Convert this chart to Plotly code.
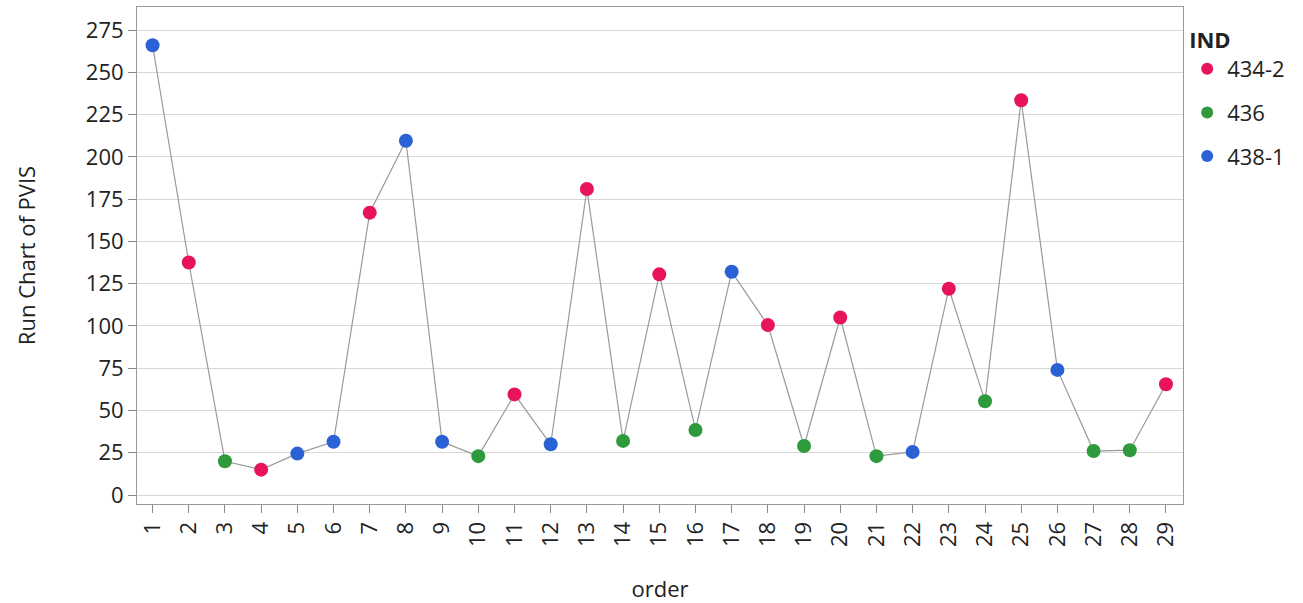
import plotly.graph_objects as go

order = list(range(1, 30))
pvis = [266, 137.5, 20, 15, 24.5, 31.5, 167, 209.5, 31.5, 23, 59.5, 30, 181, 32,
        130.5, 38.5, 132, 100.5, 29, 105, 23, 25.5, 122, 55.5, 233.5, 74, 26, 26.5, 65.5]
ind = ["438-1", "434-2", "436", "434-2", "438-1", "438-1", "434-2", "438-1", "438-1", "436",
       "434-2", "438-1", "434-2", "436", "434-2", "436", "438-1", "434-2", "436", "434-2",
       "436", "438-1", "434-2", "436", "434-2", "438-1", "436", "436", "434-2"]
groups = ["434-2", "436", "438-1"]
colors = {"434-2": "#E8145A", "436": "#2E9A3C", "438-1": "#2A62D6"}

font_family = "Open Sans, Noto Sans, sans-serif"
FS = 22

fig = go.Figure()
fig.add_trace(go.Scatter(x=order, y=pvis, mode="lines",
                         line=dict(color="#9a9a9a", width=1.2),
                         showlegend=False, hoverinfo="skip"))
for g in groups:
    xs = [o for o, i in zip(order, ind) if i == g]
    ys = [v for v, i in zip(pvis, ind) if i == g]
    fig.add_trace(go.Scatter(x=xs, y=ys, mode="markers", name=g, legendgroup=g,
                             marker=dict(color=colors[g], size=14)))

fig.update_layout(
    width=1303, height=603,
    paper_bgcolor="white", plot_bgcolor="white",
    margin=dict(l=137, r=120, t=6, b=98),
    font=dict(family=font_family, size=FS, color="#222222"),
    legend=dict(title=dict(text="<b>IND</b>", font=dict(size=FS)),
                x=1.004, xanchor="left", y=0.975, yanchor="top",
                font=dict(size=FS), itemsizing="constant",
                tracegroupgap=12, bgcolor="rgba(0,0,0,0)"),
)
fig.update_xaxes(
    range=[0.57, 29.47], tickmode="array", tickvals=order,
    ticktext=[str(o) for o in order], tickangle=-90,
    ticks="outside", ticklen=8, tickcolor="#888888",
    showline=True, linecolor="#999999", linewidth=1, mirror=True,
    showgrid=False, zeroline=False,
    title=dict(text="order", standoff=35, font=dict(size=FS)),
    tickfont=dict(size=FS),
)
fig.update_yaxes(
    range=[-5.3, 288.6], tickmode="array", tickvals=list(range(0, 276, 25)),
    ticks="outside", ticklen=8, tickcolor="#888888",
    showline=True, linecolor="#999999", linewidth=1, mirror=True,
    showgrid=True, gridcolor="#d8d8d8", gridwidth=1, zeroline=False,
    title=dict(text="Run Chart of PVIS", standoff=44, font=dict(size=FS)),
    tickfont=dict(size=FS),
)

fig.write_html("out.html", config={"displayModeBar": False},
               post_script="document.body.style.margin='0';")
